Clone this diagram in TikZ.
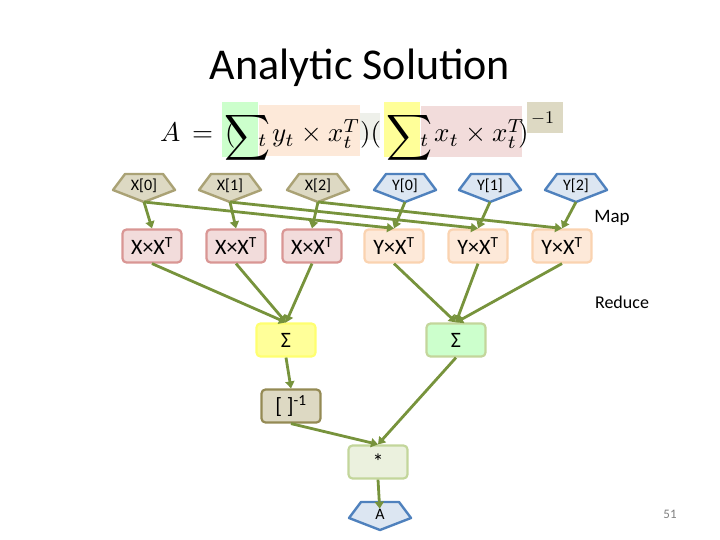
\documentclass[tikz,border=0pt]{standalone}
\usepackage{fontspec}
\setsansfont{Carlito}
\usetikzlibrary{arrows.meta}
\definecolor{olive}{HTML}{77933C}
\definecolor{pinkF}{HTML}{F2DCDB}\definecolor{pinkD}{HTML}{D99694}
\definecolor{peachF}{HTML}{FDE9D9}\definecolor{peachD}{HTML}{FAD3B0}
\definecolor{tanF}{HTML}{DDD9C3}\definecolor{tanD}{HTML}{948A54}
\definecolor{blueF}{HTML}{DCE6F2}\definecolor{blueD}{HTML}{4F81BD}
\definecolor{yelF}{HTML}{FFFF99}\definecolor{yelD}{HTML}{FFFF70}
\definecolor{grnF}{HTML}{CCFFCC}\definecolor{grnD}{HTML}{C3D69B}
\definecolor{lgF}{HTML}{EBF1DE}
\tikzset{
 lbl/.style={font=\sffamily\fontsize{16}{18}\selectfont, inner sep=0pt},
 rbox/.style={draw, rounded corners=4pt, line width=2.2pt, minimum width=59pt, minimum height=33pt, inner sep=1pt, font=\sffamily\fontsize{22}{24}\selectfont},
 arr/.style={draw=olive, line width=2.8pt, -{Triangle[length=7pt,width=9pt]}},
 fm/.style={inner sep=0pt, anchor=base west}
}
\newcommand{\fsc}[1]{\scalebox{2.7}{$#1$}}
\newcommand{\pent}[5]{% name, x, y, text, fill/draw colors
 \filldraw[#5, line width=2.4pt, line join=round] (#2-19,#3-12) -- (#2+19,#3-12) -- (#2+31,#3+4) -- (#2,#3+16) -- (#2-31,#3+4) -- cycle;
 \node[lbl] (#1) at (#2,#3) {#4};
 \coordinate (#1b) at (#2,#3+16);}
\begin{document}
\begin{tikzpicture}[x=1pt,y=-1pt]
\useasboundingbox (0,0) rectangle (720,540);
\node[font=\sffamily\fontsize{44}{48}\selectfont] (title) at (360,68) {Analytic Solution};
% formula highlights
\fill[grnF] (222,102) rectangle (258,157);
\fill[peachF] (259,105) rectangle (360,156);
\fill[lgF!80!gray!40] (360,113) rectangle (380,140);
\fill[yelF] (384,102) rectangle (420,157);
\fill[pinkF] (421,106) rectangle (522,157);
\fill[tanF] (527,102) rectangle (563,133);
\node[fm] (fA) at (160,142) {\fsc{A}};
\node[fm] (fEq) at (192,142) {\fsc{=\,(}};
\node[fm] (fS1) at (224,146) {\scalebox{3.2}{$\displaystyle\sum$}};
\node[fm] (fY) at (258,142) {\fsc{{}_t\,y_t\times x_t^T}};
\node[fm] (fPP) at (360,142) {\fsc{)(}};
\node[fm] (fS2) at (386,146) {\scalebox{3.2}{$\displaystyle\sum$}};
\node[fm] (fX) at (420,142) {\fsc{{}_t\,x_t\times x_t^T}};
\node[fm] (fP) at (518,142) {\fsc{)}};
\node[fm] (fInv) at (531,124) {\scalebox{1.8}{$-1$}};
% pentagons
\pent{x0}{144}{186}{X[0]}{fill=tanF,draw=tanD!70!tanF}
\pent{x1}{230}{186}{X[1]}{fill=tanF,draw=tanD!70!tanF}
\pent{x2}{318}{186}{X[2]}{fill=tanF,draw=tanD!70!tanF}
\pent{y0}{405}{186}{Y[0]}{fill=blueF,draw=blueD}
\pent{y1}{490}{186}{Y[1]}{fill=blueF,draw=blueD}
\pent{y2}{576}{186}{Y[2]}{fill=blueF,draw=blueD}
% map boxes
\node[rbox, fill=pinkF, draw=pinkD] (xx0) at (152,246) {X×X\textsuperscript{T}};
\node[rbox, fill=pinkF, draw=pinkD] (xx1) at (236,246) {X×X\textsuperscript{T}};
\node[rbox, fill=pinkF, draw=pinkD] (xx2) at (312,246) {X×X\textsuperscript{T}};
\node[rbox, fill=peachF, draw=peachD] (yx0) at (394,246) {Y×X\textsuperscript{T}};
\node[rbox, fill=peachF, draw=peachD] (yx1) at (478,246) {Y×X\textsuperscript{T}};
\node[rbox, fill=peachF, draw=peachD] (yx2) at (562,246) {Y×X\textsuperscript{T}};
\node[rbox, fill=yelF, draw=yelD] (sy) at (286,340) {Σ};
\node[rbox, fill=grnF, draw=grnD] (sg) at (456,340) {Σ};
\node[rbox, fill=tanF, draw=tanD] (inv) at (291,406) {[ ]\textsuperscript{-1}};
\node[rbox, fill=lgF, draw=grnD] (mul) at (378,462) {*};
\pent{a}{380}{514}{A}{fill=blueF,draw=blueD}
\node[lbl, font=\sffamily\fontsize{19}{21}\selectfont] (map) at (612,218) {Map};
\node[lbl, font=\sffamily\fontsize{18}{20}\selectfont] (red) at (622,302) {Reduce};
\node[lbl, text=gray, font=\sffamily\fontsize{13}{15}\selectfont] (pg) at (670,514) {51};
% arrows
\foreach \i in {0,1,2}{
 \draw[arr] (x\i b) -- (xx\i.north);
 \draw[arr] (y\i b) -- (yx\i.north);
 \draw[arr] (x\i b) -- (yx\i.north);
 \draw[arr] (xx\i.south) -- (sy.north);
 \draw[arr] (yx\i.south) -- (sg.north);
}
\draw[arr] (sy.south) -- (inv.north);
\draw[arr] (inv.south) -- (mul.north);
\draw[arr] (sg.south) -- (mul.north);
\draw[arr] (mul.south) -- (a);
\end{tikzpicture}
\end{document}
